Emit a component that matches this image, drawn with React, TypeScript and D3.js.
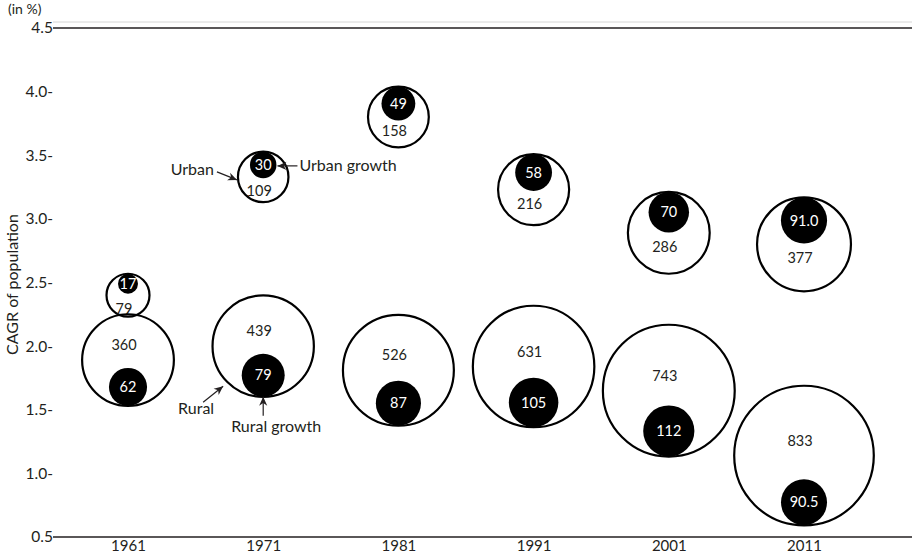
import React, { useEffect, useRef } from 'react';
import * as d3 from 'd3';

const years = [1961, 1971, 1981, 1991, 2001, 2011];
// CAGR (%) where each bubble sits
const urbanCagr = [2.4, 3.33, 3.8, 3.23, 2.89, 2.8];
const ruralCagr = [1.89, 2.0, 1.81, 1.84, 1.65, 1.14];
// population (million)
const urbanPop = [79, 109, 158, 216, 286, 377];
const ruralPop = [360, 439, 526, 631, 743, 833];
// decadal growth (million)
const urbanGrowth = [17, 30, 49, 58, 70, 91.0];
const ruralGrowth = [62, 79, 87, 105, 112, 90.5];
const urbanGrowthLabels = ['17', '30', '49', '58', '70', '91.0'];
const ruralGrowthLabels = ['62', '79', '87', '105', '112', '90.5'];
const yTicks = [0.5, 1.0, 1.5, 2.0, 2.5, 3.0, 3.5, 4.0, 4.5];

const W = 912;
const H = 556;
const FONT = 'Lato, "Open Sans", sans-serif';
const INK = '#231f20';

const App: React.FC = () => {
  const svgRef = useRef<SVGSVGElement>(null);

  useEffect(() => {
    if (!svgRef.current) return;
    const svg = d3.select(svgRef.current);
    svg.selectAll('*').remove();

    const x = d3.scaleLinear().domain([1961, 2011]).range([128, 804]);
    const y = d3.scaleLinear().domain([0.5, 4.5]).range([537, 28]);
    const r = d3.scaleSqrt().domain([0, 833]).range([0, 69.8]);
    const left = 53;

    svg.append('defs').append('marker')
      .attr('id', 'arrow')
      .attr('viewBox', '0 0 10 10')
      .attr('refX', 10)
      .attr('refY', 5)
      .attr('markerWidth', 10)
      .attr('markerHeight', 9)
      .attr('markerUnits', 'userSpaceOnUse')
      .attr('orient', 'auto')
      .append('path')
      .attr('d', 'M0,0.5L10,5L0,9.5L3,5Z')
      .attr('fill', INK);

    // faint rule above the top line
    svg.append('line')
      .attr('x1', left).attr('x2', W)
      .attr('y1', y(4.5) - 6).attr('y2', y(4.5) - 6)
      .attr('stroke', '#d6d6d6').attr('stroke-width', 1);

    // top and bottom rules
    [4.5, 0.5].forEach(v => {
      svg.append('line')
        .attr('x1', left).attr('x2', W)
        .attr('y1', y(v)).attr('y2', y(v))
        .attr('stroke', INK).attr('stroke-width', 1.5);
    });

    // y axis (labels only)
    const fmt = d3.format('.1f');
    const yAxis = d3.axisLeft(y)
      .tickValues(yTicks)
      .tickSize(0)
      .tickPadding(0)
      .tickFormat((d: any) => (d === 4.5 || d === 0.5 ? fmt(d) : fmt(d) + '-'));
    const gy = svg.append('g').attr('transform', `translate(${left},0)`).call(yAxis as any);
    gy.select('.domain').remove();
    gy.selectAll('text')
      .attr('fill', INK)
      .style('font-family', FONT)
      .style('font-size', '15.5px');

    // x axis (labels only)
    const xAxis = d3.axisBottom(x)
      .tickValues(years)
      .tickSize(0)
      .tickPadding(3)
      .tickFormat(d3.format('d') as any);
    const gx = svg.append('g').attr('transform', `translate(0,${y(0.5)})`).call(xAxis as any);
    gx.select('.domain').remove();
    gx.selectAll('text')
      .attr('fill', INK)
      .style('font-family', FONT)
      .style('font-size', '15px');

    svg.append('text')
      .attr('x', 8).attr('y', 14)
      .attr('fill', INK)
      .style('font-family', FONT)
      .style('font-size', '14px')
      .text('(in %)');

    svg.append('text')
      .attr('transform', `translate(18,${(y(0.5) + y(4.5)) / 2 + 2}) rotate(-90)`)
      .attr('text-anchor', 'middle')
      .attr('fill', INK)
      .style('font-family', FONT)
      .style('font-size', '16px')
      .text('CAGR of population');

    // bubbles
    const drawBubble = (i: number, cagr: number, pop: number, growth: number, gLabel: string, top: boolean) => {
      const cx = x(years[i]);
      const cy = y(cagr);
      const R = r(pop);
      const rb = r(growth);
      const by = top ? cy - (R - rb) : cy + (R - rb);
      const g = svg.append('g');
      g.append('circle')
        .attr('cx', cx).attr('cy', cy).attr('r', R)
        .attr('fill', 'none').attr('stroke', '#000').attr('stroke-width', 2.2);
      g.append('circle')
        .attr('cx', cx).attr('cy', by).attr('r', rb)
        .attr('fill', '#000');
      g.append('text')
        .attr('x', cx).attr('y', by)
        .attr('dy', '0.35em')
        .attr('text-anchor', 'middle')
        .attr('fill', '#fff')
        .style('font-family', FONT)
        .style('font-size', '14.5px')
        .text(gLabel);
      g.append('text')
        .attr('x', cx - 4).attr('y', top ? cy + 14 : cy - 15)
        .attr('dy', '0.35em')
        .attr('text-anchor', 'middle')
        .attr('fill', INK)
        .style('font-family', FONT)
        .style('font-size', '14.5px')
        .text(pop);
      return { cx, cy, R, by, rb };
    };

    const urban = years.map((_, i) => drawBubble(i, urbanCagr[i], urbanPop[i], urbanGrowth[i], urbanGrowthLabels[i], true));
    const rural = years.map((_, i) => drawBubble(i, ruralCagr[i], ruralPop[i], ruralGrowth[i], ruralGrowthLabels[i], false));

    // annotations on 1971
    const ann = svg.append('g')
      .style('font-family', FONT)
      .style('font-size', '16px')
      .attr('fill', INK);
    const arrow = (x1: number, y1: number, x2: number, y2: number) => {
      ann.append('line')
        .attr('x1', x1).attr('y1', y1).attr('x2', x2).attr('y2', y2)
        .attr('stroke', INK).attr('stroke-width', 1.2)
        .attr('marker-end', 'url(#arrow)');
    };

    const u = urban[1];
    const uTipX = u.cx - u.R - 1;
    const uTipY = u.cy + 3;
    arrow(uTipX - 20, uTipY - 8, uTipX, uTipY);
    ann.append('text')
      .attr('x', uTipX - 23).attr('y', uTipY - 10)
      .attr('dy', '0.35em')
      .attr('text-anchor', 'end')
      .text('Urban');

    const gTipX = u.cx + u.rb + 1;
    arrow(gTipX + 20, u.by + 1, gTipX, u.by + 1);
    ann.append('text')
      .attr('x', gTipX + 22).attr('y', u.by + 1)
      .attr('dy', '0.35em')
      .text('Urban growth');

    const rr = rural[1];
    const a = (3 * Math.PI) / 4;
    const rTipX = rr.cx + Math.cos(a) * (rr.R + 6);
    const rTipY = rr.cy + Math.sin(a) * (rr.R + 6);
    arrow(rTipX - 20, rTipY + 16, rTipX, rTipY);
    ann.append('text')
      .attr('x', rTipX - 9).attr('y', rTipY + 22)
      .attr('dy', '0.35em')
      .attr('text-anchor', 'end')
      .text('Rural');

    const bTipY = rr.cy + rr.R;
    arrow(rr.cx, bTipY + 19, rr.cx, bTipY);
    ann.append('text')
      .attr('x', rr.cx + 13).attr('y', bTipY + 30)
      .attr('dy', '0.35em')
      .attr('text-anchor', 'middle')
      .text('Rural growth');
  }, []);

  return (
    <svg
      ref={svgRef}
      width={W}
      height={H}
      style={{ position: 'absolute', left: 0, top: 0, background: '#fff' }}
    />
  );
};

export default App;
